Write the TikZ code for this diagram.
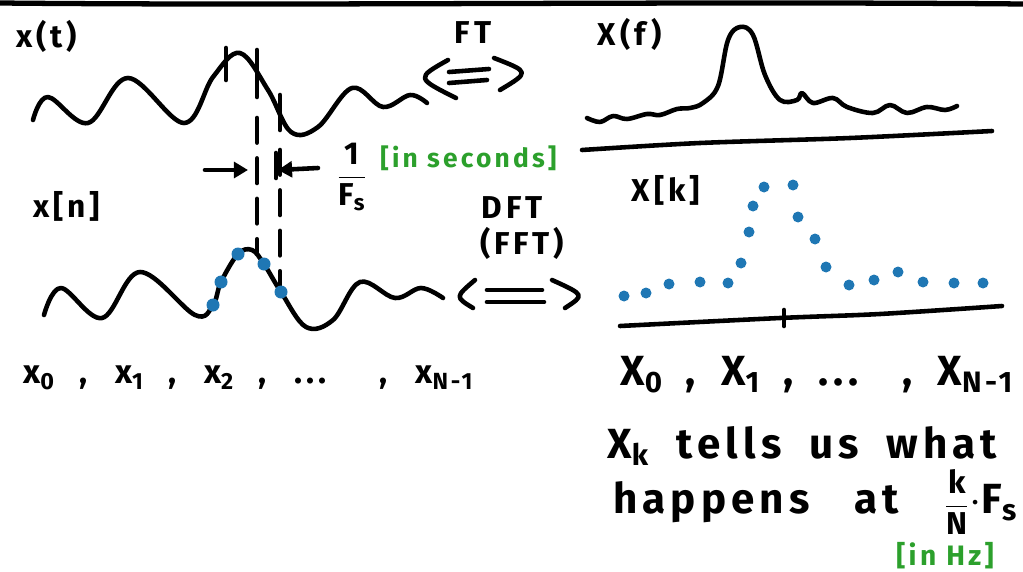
\documentclass[tikz,border=0pt]{standalone}
\usepackage{fontspec}
\setmainfont{Fira Sans}[LetterSpace=12]
\usepackage{amsmath}
\usetikzlibrary{arrows.meta,calc}
\definecolor{sampblue}{HTML}{1F77B4}
\definecolor{notegreen}{HTML}{2CA02C}
\tikzset{
    pen/.style     = {line width=2.6pt, line cap=round, line join=round, draw=black},
    hand/.style    = {inner sep=0pt, font=\fontsize{18}{21}\selectfont\bfseries},
    bighand/.style = {inner sep=0pt, anchor=west, font=\fontsize{24}{28}\selectfont\bfseries},
    note/.style    = {inner sep=0pt, text=notegreen, font=\fontsize{15}{18}\selectfont\bfseries},
    sample/.style  = {fill=sampblue},
    gap/.style     = {pen, -{Triangle[length=8pt,width=9pt]}}
}

\begin{document}
\begin{tikzpicture}[x=0.02cm, y=-0.02cm]
        \useasboundingbox (0,0) rectangle (1023,571);

        % Top rule
        \draw[pen, line width=3pt] (0,3) .. controls (300,6) and (700,1) .. (1023,4);

        % Labels
        \node[hand] (xt)  at (47,36)   {x(t)};
        \node[hand] (Xf)  at (630,34)  {X(f)};
        \node[hand] (ft)  at (473,33)  {FT};
        \node[hand] (xn)  at (67,206)  {x[n]};
        \node[hand] (Xk)  at (666,190) {X[k]};
        \node[hand] (dft) at (512,208) {DFT};
        \node[hand] (fft) at (522,243) {(FFT)};

        % Continuous signal
        \draw[pen] plot[smooth, tension=0.6] coordinates {(33,120) (48,97) (88,123) (128,78) (184,123) (213,77) (240,53) (268,90) (291,132) (318,127) (352,88) (383,107) (410,95) (427,103)};

        % Ticks and sample period
        \draw[pen] (226,48) -- (226,80);
        \draw[pen] (257,50) -- (257,97);
        \draw[pen] (280,95) -- (280,130);
        \draw[pen, dash pattern=on 14pt off 9pt] (257,118) -- (257,252);
        \draw[pen, dash pattern=on 14pt off 9pt] (280,150) -- (280,290);
        \draw[pen] (276,153) -- (276,178);
        \coordinate (gapL) at (205,170);
        \coordinate (gapLend) at (248,170);
        \coordinate (gapR) at (318,168);
        \coordinate (gapRend) at (278,170);
        \draw[gap] (gapL) -- (gapLend);
        \draw[gap] (gapR) -- (gapRend);
        \node[hand] (period) at (352,177) {$\dfrac{\text{1}}{\text{F}_{\text{s}}}$};
        \node[note, anchor=west] (insec) at (380,158) {[in seconds]};

        % FT arrow
        \coordinate (ftL) at (449,77);
        \coordinate (ftR) at (489,74);
        \draw[pen] ($(ftL)+(0,-5)$) -- ($(ftR)+(0,-5)$);
        \draw[pen] ($(ftL)+(0,6)$) -- ($(ftR)+(-2,6)$);
        \draw[pen] (448,60) .. controls (416,78) .. (456,98);
        \draw[pen] (494,58) .. controls (530,72) .. (500,90);

        % Sampled signal
        \draw[pen] plot[smooth, tension=0.6] coordinates {(44,315) (61,288) (102,318) (140,272) (195,315) (213,305) (221,282) (238,254) (252,250) (264,264) (281,292) (306,327) (333,320) (360,282) (395,298) (421,288) (443,298)};
        \foreach \p in {(213,305), (221,282), (238,254), (264,264), (281,292)}
            \fill[sample] \p circle (6.5);

        % DFT arrow
        \coordinate (dftL) at (487,296);
        \coordinate (dftR) at (542,296);
        \draw[pen] ($(dftL)+(0,-6)$) -- ($(dftR)+(0,-6)$);
        \draw[pen] ($(dftL)+(0,6)$) -- ($(dftR)+(2,6)$);
        \draw[pen] (475,280) .. controls (455,297) .. (473,308);
        \draw[pen] (552,280) .. controls (585,295) .. (565,308);

        % Spectrum
        \draw[pen] plot[smooth, tension=0.6] coordinates {(587,118) (600,122) (613,116) (627,119) (647,114) (660,115) (677,109) (690,108) (703,103) (718,86) (728,40) (740,27) (753,35) (765,75) (780,100) (797,100) (802,93) (813,103) (833,98) (847,107) (873,113) (890,105) (907,113) (927,107) (945,110) (957,106)};
        \draw[pen] plot[smooth] coordinates {(582,150) (700,143) (850,138) (992,131)};

        % DFT bins
        \foreach \p in {(624,296), (646,293), (669,284), (700,282), (728,283), (741,263), (749,232), (753,206), (764,187), (793,185), (798,217), (815,239), (826,267), (849,285), (874,280), (898,272), (923,282), (954,283), (983,283)}
            \fill[sample] \p circle (5.5);
        \draw[pen] plot[smooth] coordinates {(620,326) (780,318) (880,314) (1002,306)};
        \draw[pen] (784,310) -- (784,326);

        % Sequences
        \node[hand, anchor=west, font=\fontsize{19}{22}\selectfont\bfseries] (xseq) at (23,378)
            {\makebox[9.0cm][s]{x\textsubscript{0} , x\textsubscript{1} , x\textsubscript{2} , ... , x\textsubscript{N-1}}};
        \node[bighand] (Xseq) at (620,375)
            {\makebox[7.86cm][s]{X\textsubscript{0} , X\textsubscript{1} , ... , X\textsubscript{N-1}}};

        % Meaning of X_k
        \node[bighand] (meaning) at (607,446)
            {\makebox[7.8cm][s]{X\textsubscript{k} tells us what}};
        \node[bighand] (where) at (613,502)
            {\makebox[8.08cm][s]{happens at {\fontsize{18}{20}\selectfont$\dfrac{\text{k}}{\text{N}}$}$\cdot$F\textsubscript{s}}};
        \node[note, font=\fontsize{16}{19}\selectfont\bfseries] (inhz) at (945,556) {[in Hz]};

    \end{tikzpicture}
\end{document}
